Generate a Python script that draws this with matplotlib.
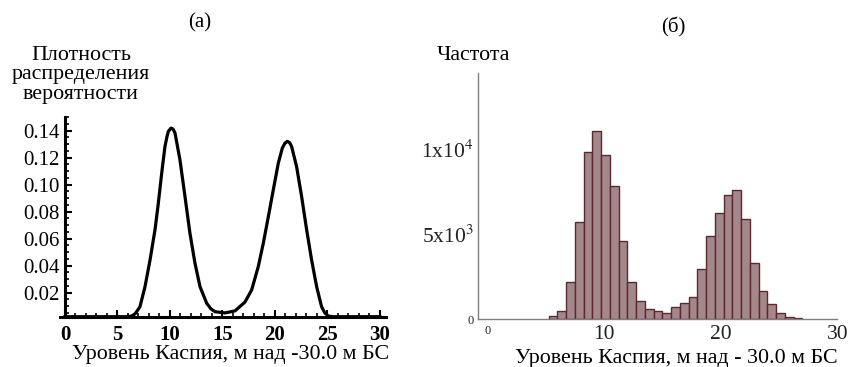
import numpy as np
import matplotlib
matplotlib.use("Agg")
import matplotlib.pyplot as plt
from matplotlib.ticker import MultipleLocator

plt.rcParams['font.family'] = ['Liberation Serif', 'DejaVu Serif']
plt.rcParams['mathtext.fontset'] = 'stix'

# ---- panel (a): probability density curve
dens_x = [0, 1, 2, 3, 4, 5, 6.0, 6.35, 6.7, 7.14, 7.62, 8.10, 8.57, 8.89, 9.21,
          9.52, 9.70, 9.84, 10.10, 10.30, 10.48, 10.95, 11.43, 11.90, 12.38, 12.86,
          13.50, 13.9, 14.29, 15.24, 16.19, 17.14, 17.78, 18.41, 18.89, 19.37,
          19.84, 20.32, 20.70, 20.95, 21.17, 21.40, 21.59, 22.06, 22.54, 23.02,
          23.49, 23.97, 24.44, 24.75, 25.08, 25.5, 26, 27, 28, 29, 30]
dens_y = [0.0022, 0.0022, 0.0022, 0.0022, 0.0022, 0.0022, 0.0022, 0.0027, 0.0045,
          0.0096, 0.0244, 0.0442, 0.0664, 0.0862, 0.1084, 0.1281, 0.1350, 0.1393,
          0.1418, 0.1410, 0.1381, 0.1183, 0.0911, 0.0640, 0.0418, 0.0244, 0.0121,
          0.0080, 0.0059, 0.0050, 0.0065, 0.0130, 0.0220, 0.0393, 0.0566, 0.0763,
          0.0961, 0.1159, 0.1270, 0.1306, 0.1320, 0.1310, 0.1281, 0.1133, 0.0911,
          0.0664, 0.0442, 0.0244, 0.0096, 0.0050, 0.0027, 0.0022, 0.0022, 0.0022,
          0.0022, 0.0022, 0.0022]
a_xticks = [0, 5, 10, 15, 20, 25, 30]
a_yticks = [0.02, 0.04, 0.06, 0.08, 0.10, 0.12, 0.14]
a_yticklabels = ['0.02', '0.04', '0.06', '0.08', '0.10', '0.12', '0.14']

# ---- panel (б): histogram of levels
bin_start = 5.25
bin_width = 0.75
counts = [180, 460, 2180, 5680, 9800, 11060, 9650, 7830, 4610, 2180, 1080, 600,
          460, 350, 690, 920, 1310, 2920, 4900, 6250, 7290, 7600, 5900, 3290,
          1650, 860, 330, 120, 80]
b_xticks = [0, 10, 20, 30]
b_xticklabels = ['0', '10', '20', '30']
b_yticks = [0, 5000, 10000]
b_yticklabels = ['0', '5x10$^3$', '1x10$^4$']

xlabel_a = 'Уровень Каспия, м над -30.0 м БС'
xlabel_b = 'Уровень Каспия, м над - 30.0 м БС'

W, H = 855, 367
fig = plt.figure(figsize=(W / 100, H / 100), dpi=100)

# ---------- panel (a)
ax1 = fig.add_axes([59.75 / W, 1 - 316.7 / H, 326.5 / W, 199.7 / H])
ax1.plot(dens_x, dens_y, color='black', lw=2.3, solid_joinstyle='round')
ax1.set_xlim(-0.5, 30.6)
ax1.set_ylim(0.0022, 0.150)
for s in ['top', 'right']:
    ax1.spines[s].set_visible(False)
ax1.spines['left'].set_position(('data', 0))
ax1.spines['left'].set_linewidth(2.2)
ax1.spines['bottom'].set_linewidth(2.2)
ax1.set_xticks(a_xticks)
ax1.set_yticks(a_yticks)
ax1.set_yticklabels(a_yticklabels)
ax1.xaxis.set_minor_locator(MultipleLocator(1))
ax1.yaxis.set_minor_locator(MultipleLocator(0.005))
ax1.tick_params(which='major', direction='in', length=5, width=1.5, labelsize=15, pad=4)
ax1.tick_params(which='minor', direction='in', length=3, width=1.2)
ax1.tick_params(axis='x', pad=6)
for lab in ax1.get_xticklabels():
    lab.set_fontweight('bold')

fig.text(200 / W, 1 - 23 / H, '(a)', ha='center', va='center', fontsize=15)
fig.text(81 / W, 1 - 75 / H, 'Плотность\nраспределения\nвероятности',
         ha='center', va='center', fontsize=15.8, linespacing=1.0)
fig.text(231 / W, 1 - 354 / H, xlabel_a, ha='center', va='center', fontsize=15.8)

# ---------- panel (б)
ax2 = fig.add_axes([478 / W, 1 - 319 / H, 359.4 / W, 246 / H])
centers = bin_start + bin_width * (np.arange(len(counts)) + 0.5)
ax2.bar(centers, counts, width=bin_width, color='#a3878a', edgecolor='#5c2a2e',
        linewidth=1.0)
ax2.set_xlim(-0.8, 30)
ax2.set_ylim(0, 14470)
for s in ['top', 'right']:
    ax2.spines[s].set_visible(False)
for s in ['left', 'bottom']:
    ax2.spines[s].set_color('#7f7f7f')
    ax2.spines[s].set_linewidth(1.0)
ax2.set_xticks(b_xticks)
ax2.set_xticklabels(b_xticklabels)
ax2.set_yticks(b_yticks)
ax2.set_yticklabels(b_yticklabels)
ax2.tick_params(length=0, labelsize=15.5, colors='#222222')
ax2.tick_params(axis='x', pad=4)
ax2.tick_params(axis='y', pad=3)
ax2.get_xticklabels()[0].set_fontsize(9)
ax2.get_yticklabels()[0].set_fontsize(9)

fig.text(673 / W, 1 - 27 / H, '(б)', ha='center', va='center', fontsize=15)
fig.text(473 / W, 1 - 55 / H, 'Частота', ha='center', va='center', fontsize=15.8)
fig.text(676 / W, 1 - 358 / H, xlabel_b, ha='center', va='center', fontsize=15.8)

fig.savefig('out.png', dpi=100)
